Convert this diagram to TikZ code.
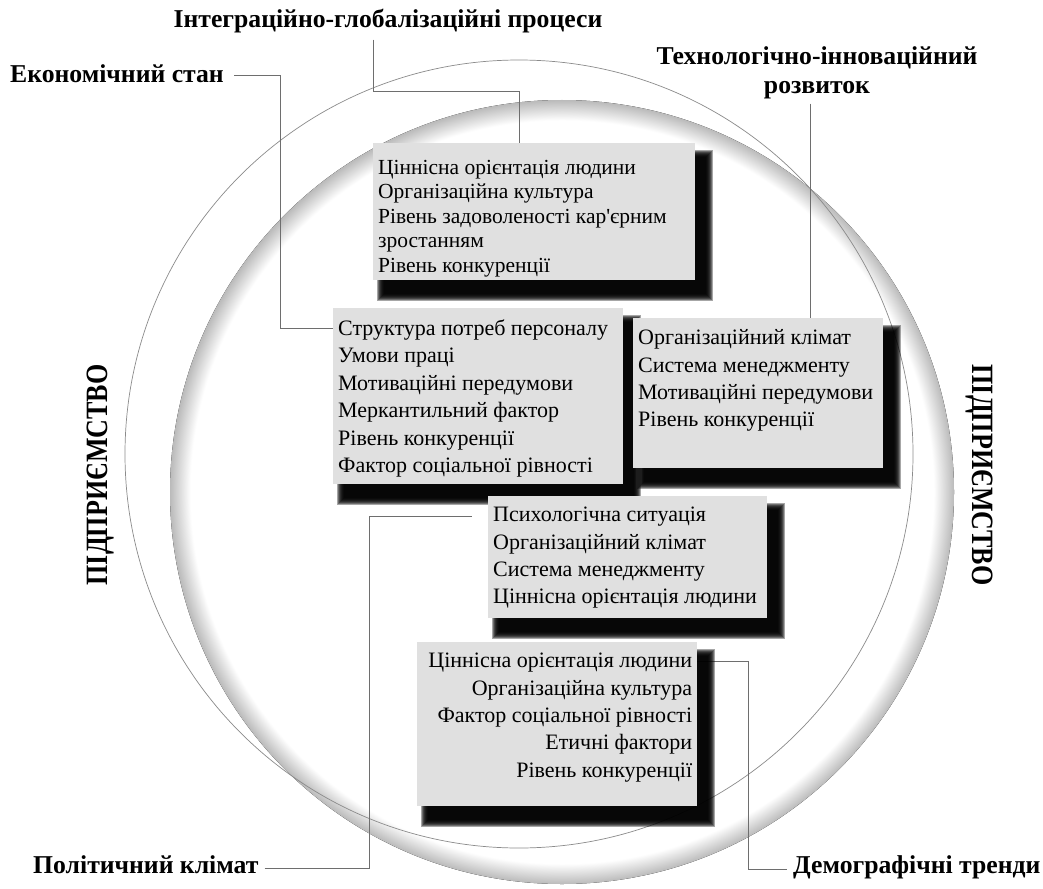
\documentclass[tikz,border=0pt]{standalone}
\usepackage{fontspec}
\setmainfont{Liberation Serif}[Ligatures=TeXOff]
\usetikzlibrary{calc}
\definecolor{boxgray}{RGB}{224,224,224}
\definecolor{linegray}{RGB}{110,110,110}
\pgfdeclareradialshading{discglow}{\pgfpoint{0bp}{0bp}}{color(0bp)=(white); color(23.7bp)=(white); color(25bp)=(black!27); color(50bp)=(white)}
\pgfdeclarelayer{bg}
\pgfdeclarelayer{connlayer}
\pgfdeclarelayer{shadowlayer}
\pgfsetlayers{bg,connlayer,shadowlayer,main}
\newcommand{\bxt}[4]{\parbox[c][#2][t]{#1}{\vspace*{#3}#4}}
\newcommand{\fl}{\rule{0pt}{15pt}}
\newcommand{\boxshadow}[1]{%
  \begin{pgfonlayer}{shadowlayer}
  \foreach \e in {7,6,5,4,3,2,1,0}{%
    \fill[black, opacity=0.35] ($(#1.north west)+(11-\e,14-\e)$) rectangle ($(#1.south east)+(11+\e,14+\e)$);
  }
  \end{pgfonlayer}}
\tikzset{
  factor/.style={font=\fontsize{25.7}{29}\selectfont\bfseries, inner sep=0pt},
  bigfactor/.style={font=\fontsize{31}{31}\selectfont\bfseries, inner sep=0pt},
  conn/.style={draw=linegray, line width=0.8pt},
  fbox/.style={fill=boxgray, inner xsep=5pt, inner ysep=0pt, anchor=north west},
}
\begin{document}
\begin{tikzpicture}[x=1pt,y=-1pt]
\useasboundingbox (0,0) rectangle (1043,888);
\begin{pgfonlayer}{bg}
\fill[white] (0,0) rectangle (1043,888);
\fill[shading=discglow] (562,492) circle[radius=392pt];
\draw[linegray!80, line width=0.7pt] (519,454) circle[radius=394pt];
\end{pgfonlayer}

% labels
\node[factor, anchor=base] (lab1) at (388,28) {Інтеграційно-глобалізаційні процеси};
\node[factor, anchor=base west] (lab2) at (10,83) {Економічний стан};
\node[factor, anchor=north, align=center] (lab3) at (817,46) {Технологічно-інноваційний\\розвиток};
\node[factor, anchor=base west] (lab4) at (33,873) {Політичний клімат};
\node[factor, anchor=base west] (lab5) at (793,873) {Демографічні тренди};
\node[bigfactor, rotate=90] (e1) at (101,475) {\scalebox{0.84}[1]{ПІДПРИЄМСТВО}};
\node[bigfactor, rotate=-90] (e2) at (979,475) {\scalebox{0.84}[1]{ПІДПРИЄМСТВО}};

% boxes
\node[fbox] (b1) at (373,143) {\bxt{312pt}{137pt}{16pt}{\fontsize{21.5}{24.5}\selectfont\raggedright
  \fl Ціннісна орієнтація людини\\Організаційна культура\\Рівень задоволеності кар'єрним\\зростанням\\Рівень конкуренції}};
\node[fbox] (b2) at (333,308) {\bxt{280pt}{176pt}{11.5pt}{\fontsize{22}{27.4}\selectfont\raggedright
  \fl Структура потреб персоналу\\Умови праці\\Мотиваційні передумови\\Меркантильний фактор\\Рівень конкуренції\\Фактор соціальної рівності}};
\node[fbox] (b3) at (633,318) {\bxt{240pt}{150pt}{11.5pt}{\fontsize{22}{27.4}\selectfont\raggedright
  \fl Організаційний клімат\\Система менеджменту\\Мотиваційні передумови\\Рівень конкуренції}};
\node[fbox] (b4) at (488,496) {\bxt{269pt}{122pt}{10.5pt}{\fontsize{22}{27.4}\selectfont\raggedright
  \fl Психологічна ситуація\\Організаційний клімат\\Система менеджменту\\Ціннісна орієнтація людини}};
\node[fbox] (b5) at (417,642) {\bxt{270pt}{164pt}{10.5pt}{\fontsize{22}{27.4}\selectfont\raggedleft
  \fl Ціннісна орієнтація людини\\Організаційна культура\\Фактор соціальної рівності\\Етичні фактори\\Рівень конкуренції}};
\boxshadow{b1}\boxshadow{b2}\boxshadow{b3}\boxshadow{b4}\boxshadow{b5}

% connectors
\coordinate (s1) at ($(lab1.south)+(0,6)$);
\coordinate (s2) at ($(lab2.base east)+(10,-8)$);
\coordinate (t3) at ($(b3.north west)+(177,0)$);
\coordinate (s3) at ($(lab3.south)+(0,5)$);
\coordinate (s4) at ($(lab4.base east)+(6,-5)$);
\begin{pgfonlayer}{connlayer}
\draw[conn] (s1 -| b1.north west) |- ($(b1.north west)+(146,-52)$) -- ($(b1.north west)+(146,0)$);
\draw[conn] (s2) -| ($(b2.north west)+(-53,20)$) -- ($(b2.north west)+(0,20)$);
\draw[conn] (s3 -| t3) -- (t3);
\draw[conn] (s4) -| ($(b4.north west)+(-119,20)$) -- ($(b4.north west)+(-16,20)$);
\draw[conn] ($(b5.north east)+(0,19)$) -- ++(51,0) |- ($(lab5.base west)+(-6,-4)$);
\end{pgfonlayer}
\end{tikzpicture}
\end{document}
